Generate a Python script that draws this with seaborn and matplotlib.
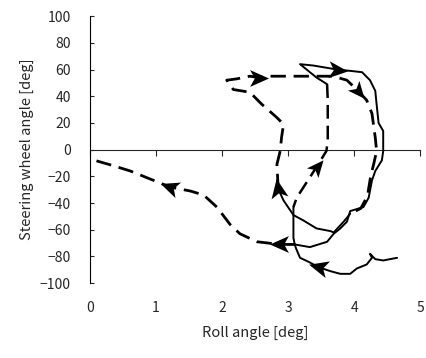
import numpy as np
import pandas as pd
import seaborn as sns
import matplotlib.pyplot as plt

# roll angle [deg] / steering wheel angle [deg]
bottom_x = [4.65, 4.44, 4.32, 4.24, 4.27, 4.19, 4.04, 3.94, 3.79, 3.64, 3.46, 3.31, 3.18, 3.12, 3.10]
bottom_y = [-81, -83, -82, -78, -81, -86, -89, -93, -93, -91, -88, -84, -81, -74, -71]

return_x = [3.10, 2.88, 2.53, 2.27, 2.12, 1.92, 1.72, 1.52, 1.21, 0.91, 0.61, 0.35, 0.0]
return_y = [-71, -71, -69, -63, -56, -43, -34, -31, -28, -22, -16, -12, -7]

outer_x = [3.10, 3.33, 3.59, 3.69, 3.79, 3.89, 3.94, 4.14, 4.22, 4.27, 4.32, 4.42, 4.44,
           4.44, 4.37, 4.34, 4.32, 4.24, 4.12, 3.94, 3.74, 3.38, 3.18, 3.43, 3.59]
outer_y = [-71, -73, -69, -63, -59, -54, -46, -43, -36, -23, -16, -8, -1,
           14, 20, 34, 44, 52, 58, 59, 60, 63, 64, 54, 49]

mid_x = [3.59, 3.60, 3.60, 3.58, 3.43, 3.13, 3.08]
mid_y = [49, 37, 7, -1, -13, -36, -43]

stem_x = [3.08, 3.08, 3.10]
stem_y = [-43, -66, -71]

lower_x = [3.94, 3.84, 3.69, 3.64, 3.43, 3.23, 3.08, 2.93, 2.85]
lower_y = [-48, -54, -62, -61, -59, -53, -49, -38, -29.5]

inner_x = [2.85, 2.83, 2.88, 2.90, 2.93, 2.83, 2.60, 2.42, 2.17, 2.07, 2.22, 2.42, 2.55,
           2.73, 3.18, 3.68, 3.89, 4.06, 4.19, 4.27, 4.32, 4.34, 4.30, 4.25, 4.20, 4.10, 3.94]
inner_y = [-29.5, -11, -1, 9, 19, 24, 34, 43, 45, 52, 53, 55, 54,
           55, 55, 55, 52, 44, 37, 27, 9, -1, -10, -20, -35, -44, -48]

# arrowheads: position and direction of travel (degrees)
arrow_x = [2.88, 1.21, 3.46, 2.85, 3.43, 2.55, 3.74, 4.06]
arrow_y = [-71, -28, -88, -29.5, -13, 54, 60, 44]
arrow_dir = [180, 160, 165, 100, 50, 0, -5, -50]

segments = [
    (bottom_x, bottom_y, '-', 1.4),
    (return_x, return_y, '--', 2.0),
    (outer_x, outer_y, '-', 1.4),
    (mid_x, mid_y, '--', 1.8),
    (stem_x, stem_y, '-', 1.4),
    (lower_x, lower_y, '-', 1.4),
    (inner_x, inner_y, '--', 2.0),
]

sns.set_style('white')
plt.rcParams['font.family'] = ['Noto Sans CJK JP', 'DejaVu Sans']

fig = plt.figure(figsize=(4.27, 3.58), dpi=100)
ax = fig.add_axes([0.211, 0.209, 0.773, 0.746])

for sx, sy, ls, lw in segments:
    df = pd.DataFrame({'roll': sx, 'steer': sy})
    sns.lineplot(data=df, x='roll', y='steer', sort=False, estimator=None,
                 color='black', lw=lw, ax=ax)
    ln = ax.lines[-1]
    if ls == '--':
        ln.set_dashes((5.5, 2.8))

# notched arrowhead shape
head = np.array([[1.0, 0.0], [-0.8, 0.8], [-0.35, 0.0], [-0.8, -0.8], [1.0, 0.0]])
for axv, ayv, ang in zip(arrow_x, arrow_y, arrow_dir):
    t = np.deg2rad(ang)
    rot = np.array([[np.cos(t), -np.sin(t)], [np.sin(t), np.cos(t)]])
    verts = head @ rot.T
    ax.scatter([axv], [ayv], marker=verts, s=230, color='black', linewidths=0, zorder=5)

ax.set_xlim(0, 5)
ax.set_ylim(-100, 100)
ax.set_yticks(np.arange(-100, 101, 20))
ax.set_xticks(np.arange(0, 6, 1))
for s in ['top', 'right', 'bottom']:
    ax.spines[s].set_visible(False)
ax.spines['left'].set_color('black')
ax.spines['left'].set_linewidth(0.8)
ax.tick_params(axis='x', length=0, pad=13, labelsize=10)
ax.tick_params(axis='y', direction='in', length=3, width=0.8, pad=14, labelsize=10, left=True)

zero_axis = ax.secondary_xaxis(0.5)
zero_axis.set_xticks(np.arange(0, 6, 1))
zero_axis.set_xticklabels([])
zero_axis.tick_params(direction='in', length=4, width=0.8)
zero_axis.spines['bottom'].set_linewidth(0.8)

ax.set_xlabel('Roll angle [deg]', fontsize=10.5, labelpad=8)
ax.set_ylabel('Steering wheel angle [deg]', fontsize=10.5, labelpad=4)

fig.savefig('out.png', dpi=100)
